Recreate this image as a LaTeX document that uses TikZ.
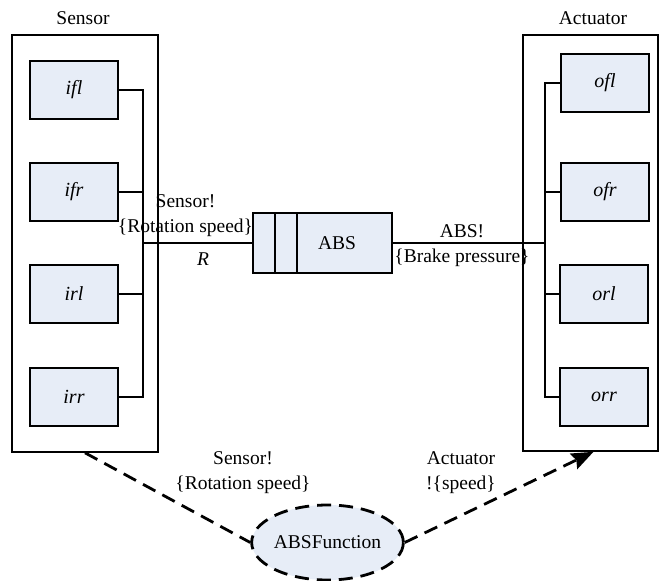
\documentclass[tikz,border=0pt]{standalone}
\usepackage{fontspec}
\setmainfont{Liberation Serif}
\usetikzlibrary{arrows.meta,shapes.geometric}
\definecolor{boxfill}{RGB}{231,237,247}
\tikzset{
  txt/.style={font=\fontsize{19.5}{25}\selectfont, inner sep=0pt, align=center},
  container/.style={draw, line width=1.6pt, minimum width=146pt, minimum height=417pt, inner sep=0pt},
  wheel/.style={draw, line width=2pt, fill=boxfill, minimum width=88pt, minimum height=58pt,
    inner sep=0pt, font=\fontsize{20}{23}\selectfont\itshape},
  wire/.style={line width=2pt},
  mainwire/.style={line width=2.8pt},
  flow/.style={line width=2.8pt, dash pattern=on 14pt off 8pt},
}
\begin{document}
\begin{tikzpicture}[x=1pt,y=-1pt]
\useasboundingbox (0,0) rectangle (662,581);

% containers
\node[container] (S) at (85,243.5) {};
\node[container, minimum width=135pt, minimum height=416pt] (A) at (590.5,243) {};
\node[txt] (St) at (83,18) {Sensor};
\node[txt] (At) at (593,18) {Actuator};

% sensor units
\node[wheel] (ifl) at (74,90) {ifl};
\node[wheel] (ifr) at (74,192) {ifr};
\node[wheel] (irl) at (74,294) {irl};
\node[wheel] (irr) at (74,397) {irr};

% actuator units
\node[wheel] (ofl) at (605,83) {ofl};
\node[wheel] (ofr) at (605,192) {ofr};
\node[wheel] (orl) at (604,294) {orl};
\node[wheel] (orr) at (604,397) {orr};

% ABS controller
\node[draw, line width=2pt, fill=boxfill, minimum width=139pt, minimum height=60pt, inner sep=0pt] (ABS) at (322.5,243) {};
\node[txt] (abst) at (337,243) {ABS};
\draw[line width=2pt] (275,213) -- (275,273);
\draw[line width=2pt] (297,213) -- (297,273);

% bus positions
\coordinate (sbus) at (143,0);
\coordinate (abus) at (544.5,0);

% sensor bus
\draw[wire] (ifl.east) -- (ifl.east -| sbus) |- (irr.east);
\draw[wire] (ifr.east) -- (ifr.east -| sbus);
\draw[wire] (irl.east) -- (irl.east -| sbus);

% actuator bus
\draw[wire] (ofl.west) -- (ofl.west -| abus) |- (orr.west);
\draw[wire] (ofr.west) -- (ofr.west -| abus);
\draw[wire] (orl.west) -- (orl.west -| abus);

% links to the controller
\draw[mainwire] (ABS.west) -- (ABS.west -| sbus);
\draw[mainwire] (ABS.east) -- (ABS.east -| abus);

\node[txt] (l1) at (185.5,216) {Sensor!\\\{Rotation speed\}};
\node[txt] (l2) at (203,259) {\itshape R};
\node[txt] (l3) at (462,245.5) {ABS!\\\{Brake pressure\}};

% function
\node[ellipse, draw, fill=boxfill, line width=2.8pt, dash pattern=on 14pt off 8pt,
  minimum width=151pt, minimum height=75pt, inner sep=0pt, font=\fontsize{19.5}{23}\selectfont] (F) at (327.5,542.5) {ABSFunction};

\draw[flow] (S.south) -- (F.west);
\draw[flow, -{Stealth[length=22pt,width=17pt,inset=3pt]}] (F.east) -- ([xshift=3pt]A.south);

\node[txt] (l4) at (243,472.5) {Sensor!\\\{Rotation speed\}};
\node[txt] (l5) at (461,472.5) {Actuator\\!\{speed\}};
\end{tikzpicture}
\end{document}
